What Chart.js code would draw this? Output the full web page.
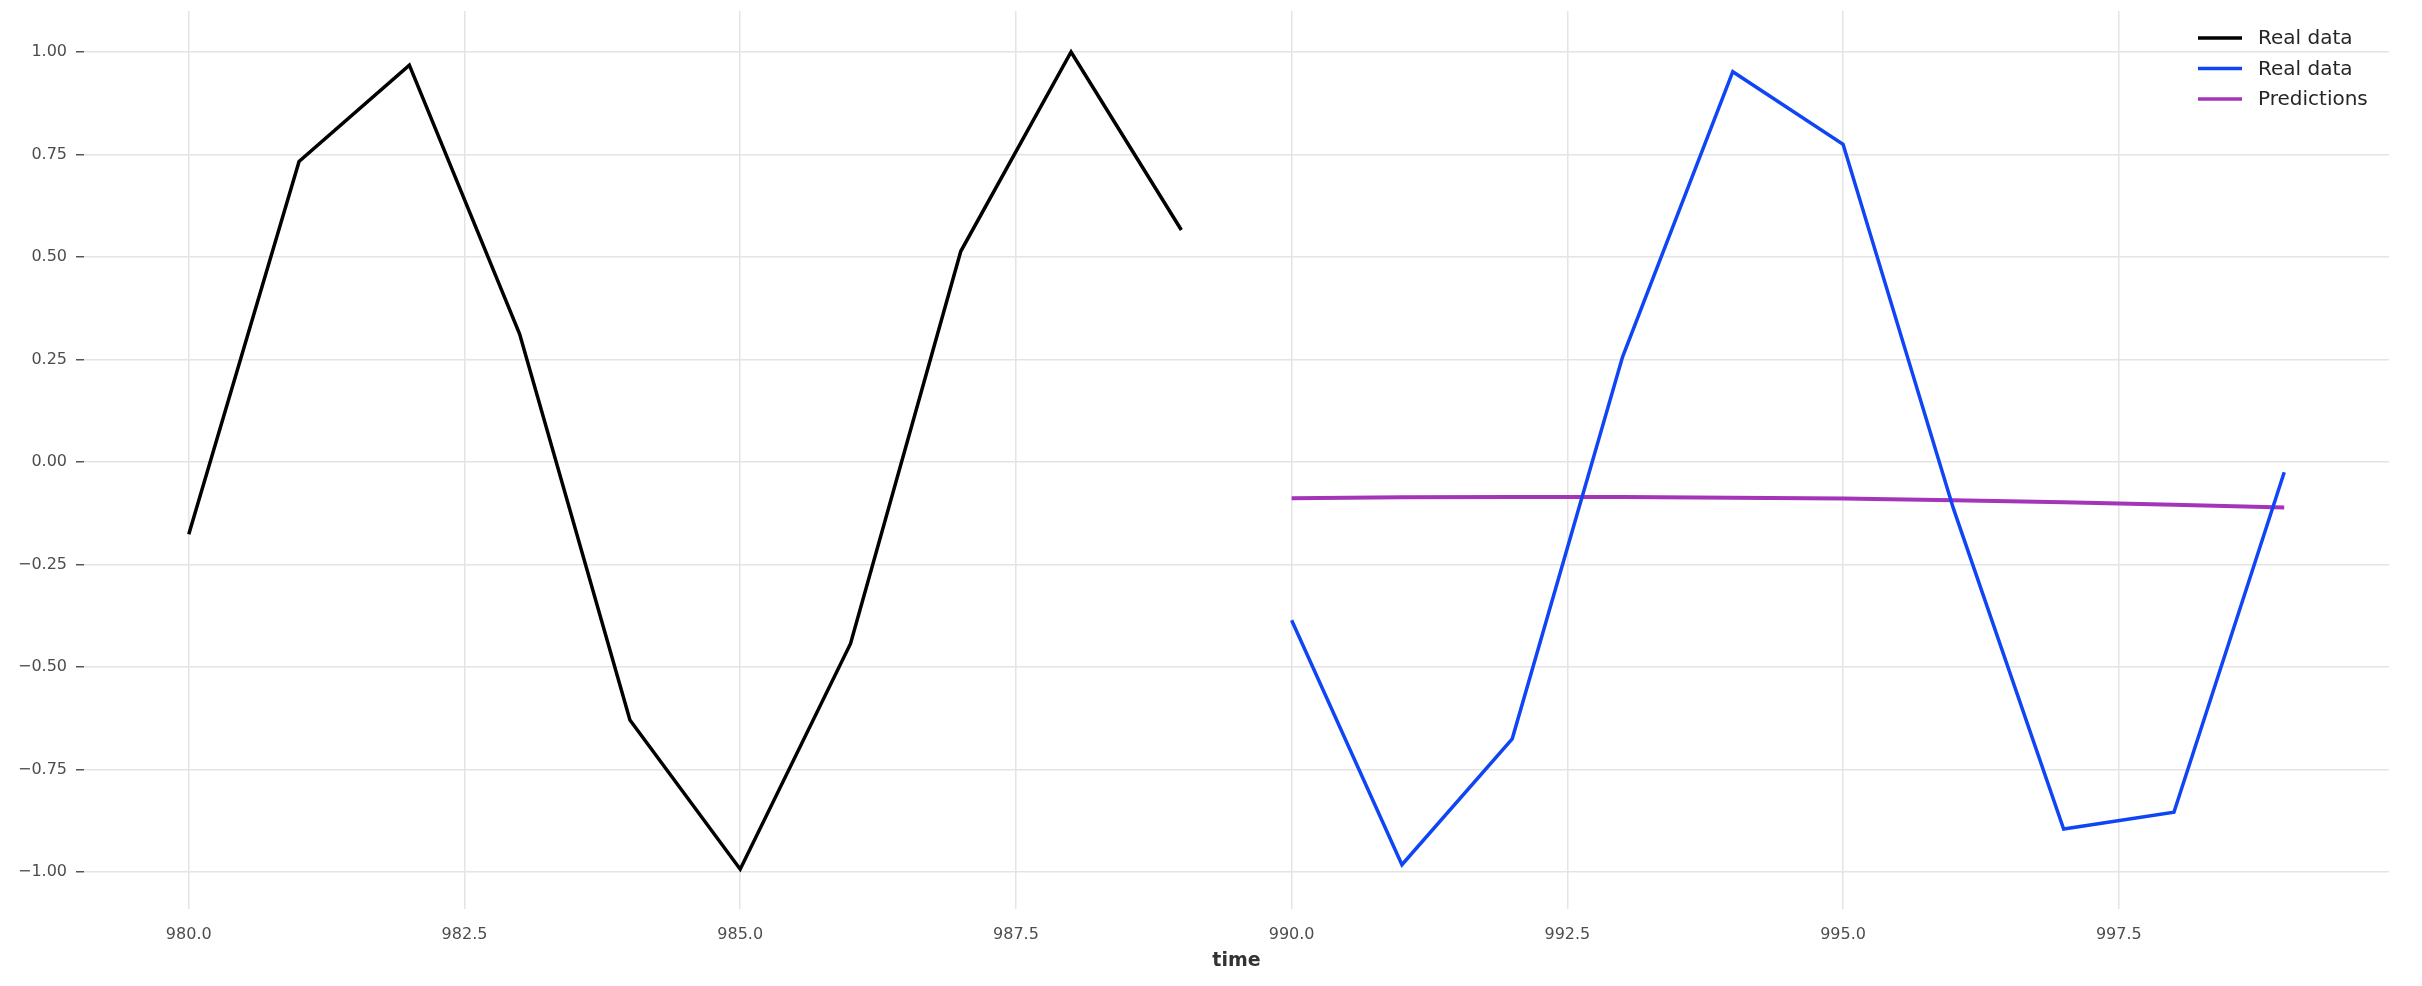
<!DOCTYPE html>
<html>
<head>
<meta charset="utf-8">
<script src="https://cdn.jsdelivr.net/npm/chart.js@4.4.1/dist/chart.umd.min.js"></script>
<style>
  html, body { margin: 0; padding: 0; background: #fff; }
  #wrap { width: 2422px; height: 986px; }
</style>
</head>
<body>
<div id="wrap"><canvas id="chart" width="2422" height="986"></canvas></div>
<script>
// time axis
const realTimes = [980, 981, 982, 983, 984, 985, 986, 987, 988, 989];
const testTimes = [990, 991, 992, 993, 994, 995, 996, 997, 998, 999];

// series
const realValues = [-0.176, 0.733, 0.968, 0.312, -0.629, -0.993, -0.443, 0.514, 1.0, 0.566];
const testValues = [-0.386, -0.982, -0.675, 0.256, 0.952, 0.775, -0.113, -0.895, -0.854, -0.025];
const predValues = [-0.088, -0.086, -0.085, -0.085, -0.087, -0.089, -0.093, -0.098, -0.104, -0.111];

const seriesLabels = ["Real data", "Real data", "Predictions"];

// ticks
const xTicks = [980, 982.5, 985, 987.5, 990, 992.5, 995, 997.5];
const xTickLabels = ["980.0", "982.5", "985.0", "987.5", "990.0", "992.5", "995.0", "997.5"];
const yTicks = [-1, -0.75, -0.5, -0.25, 0, 0.25, 0.5, 0.75, 1];
const yTickLabels = ["\u22121.00", "\u22120.75", "\u22120.50", "\u22120.25", "0.00", "0.25", "0.50", "0.75", "1.00"];

const FONT = "'DejaVu Sans', 'Liberation Sans', sans-serif";

function points(xs, ys) {
    return xs.map((x, i) => ({ x: x, y: ys[i] }));
}

// legend drawn inside the plot, top right
const innerLegend = {
    id: 'innerLegend',
    afterDraw(chart) {
        const ctx = chart.ctx;
        const area = chart.chartArea;
        const x0 = area.right - 191;
        let y = area.top + 27;
        ctx.save();
        ctx.font = "20px " + FONT;
        ctx.textBaseline = "middle";
        ctx.textAlign = "left";
        chart.data.datasets.forEach(ds => {
            ctx.strokeStyle = ds.borderColor;
            ctx.lineWidth = 3.5;
            ctx.beginPath();
            ctx.moveTo(x0, y);
            ctx.lineTo(x0 + 44, y);
            ctx.stroke();
            ctx.fillStyle = "#262626";
            ctx.fillText(ds.label, x0 + 60, y + 1);
            y += 30.5;
        });
        ctx.restore();
    }
};

const ctx = document.getElementById("chart").getContext("2d");
new Chart(ctx, {
    type: 'line',
    data: {
        datasets: [
            { label: seriesLabels[0], data: points(realTimes, realValues), borderColor: "#000000", borderWidth: 3.5 },
            { label: seriesLabels[1], data: points(testTimes, testValues), borderColor: "#0f45f5", borderWidth: 3.5 },
            { label: seriesLabels[2], data: points(testTimes, predValues), borderColor: "#a535b8", borderWidth: 4 }
        ]
    },
    options: {
        responsive: false,
        devicePixelRatio: 1,
        animation: false,
        layout: { padding: { top: 11, right: 33, left: 0, bottom: 0 } },
        elements: { point: { radius: 0 }, line: { tension: 0 } },
        plugins: { legend: { display: false }, tooltip: { enabled: false } },
        scales: {
            x: {
                type: 'linear',
                min: 979.05,
                max: 999.95,
                border: { display: false },
                grid: { color: "#e4e4e4", lineWidth: 1.5, drawTicks: false },
                afterBuildTicks: s => { s.ticks = xTicks.map(v => ({ value: v })); },
                afterFit: s => { s.height = 77; },
                ticks: {
                    padding: 16,
                    maxRotation: 0,
                    color: "#4d4d4d",
                    font: { family: FONT, size: 16 },
                    callback: v => xTickLabels[xTicks.indexOf(v)]
                },
                title: {
                    display: true,
                    text: "time",
                    color: "#333333",
                    font: { family: FONT, size: 19, weight: 'bold' },
                    padding: { top: 0, bottom: 14 }
                }
            },
            y: {
                min: -1.09,
                max: 1.10,
                border: { display: false },
                grid: { color: "#e4e4e4", lineWidth: 1.5, tickColor: "#555555", tickLength: 8 },
                afterBuildTicks: s => { s.ticks = yTicks.map(v => ({ value: v })); },
                afterFit: s => { s.width = 84; },
                ticks: {
                    padding: 9,
                    color: "#4d4d4d",
                    // small lineHeight keeps the label overhang from pushing the plot top down
                    font: { family: FONT, size: 16, lineHeight: 0.1 },
                    callback: v => yTickLabels[yTicks.indexOf(v)]
                }
            }
        }
    },
    plugins: [innerLegend]
});
</script>
</body>
</html>
